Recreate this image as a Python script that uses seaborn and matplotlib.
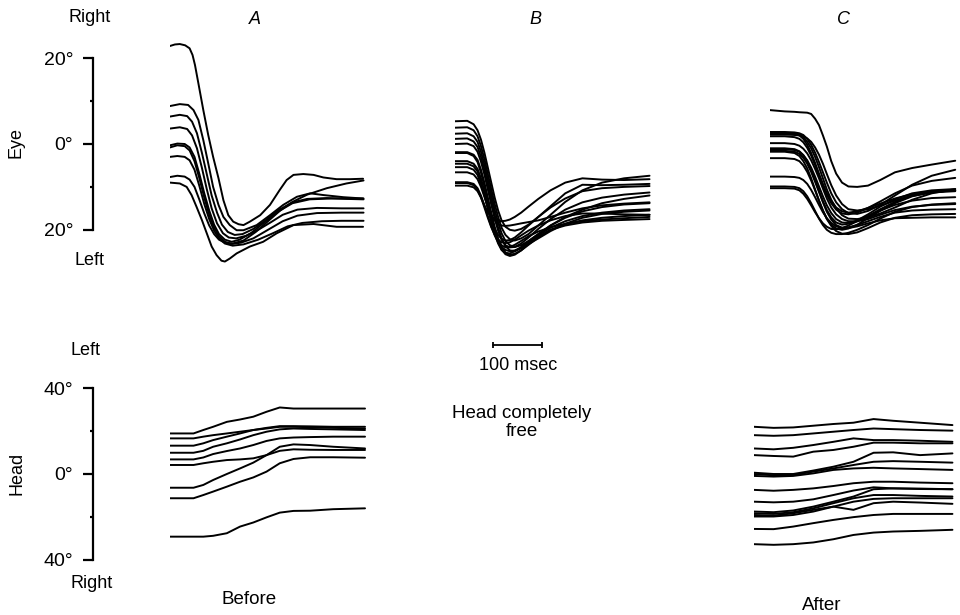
import matplotlib
matplotlib.use("Agg")
import matplotlib.pyplot as plt
import pandas as pd
import seaborn as sns

# ---------------------------------------------------------------------------
# Recorded traces, degrees against time in msec from the start of each sweep.
# Eye: positive = rightward.  Head: positive = leftward.
# ---------------------------------------------------------------------------

# Panel A eye traces: (msec, degrees) samples per trial
EYE_A = [
    [(0, 22.85), (10, 23.2), (20, 23.3), (31, 23.0), (40, 22.3), (46, 20.75), (51, 18.4), (58, 14.1),
     (68, 7.9), (78, 2.1), (88, -3.0), (99, -8.0), (109, -13.1), (119, -16.6), (129, -18.1), (140, -18.7),
     (150, -18.9), (163, -18.1), (184, -16.6), (204, -14.2), (224, -10.7), (238, -8.4), (252, -7.2),
     (272, -7.0), (293, -7.2), (313, -7.8), (340, -8.2), (367, -8.2), (394, -8.1)],
    [(0, 8.85), (20, 9.3), (37, 9.1), (48, 7.9), (58, 5.6), (68, 0.9), (78, -4.5), (88, -10.0), (99, -14.2),
     (109, -17.0), (122, -18.9), (136, -20.1), (150, -20.1), (177, -18.9), (204, -16.6), (231, -14.2),
     (259, -12.3), (286, -11.5), (313, -11.9), (354, -12.4), (394, -12.7)],
    [(0, 6.4), (20, 6.8), (35, 6.5), (45, 5.2), (55, 2.5), (65, -2.0), (75, -7.0), (85, -12.0), (96, -16.0),
     (106, -18.8), (118, -20.5), (132, -21.2), (148, -21.0), (170, -19.8), (195, -17.8), (220, -15.5),
     (250, -13.6), (280, -12.8), (320, -12.6), (360, -12.8), (395, -12.9)],
    [(0, 3.6), (20, 3.9), (35, 3.5), (45, 2.0), (55, -1.0), (65, -5.5), (75, -10.5), (85, -15.0), (96, -18.5),
     (108, -20.8), (120, -21.8), (135, -22.0), (155, -21.4), (180, -20.0), (205, -18.3), (230, -16.5),
     (260, -15.3), (300, -14.9), (350, -15.0), (395, -15.0)],
    [(0, -0.3), (15, 0.1), (30, 0.0), (40, -0.8), (50, -3.0), (60, -7.0), (70, -11.5), (80, -15.5), (90, -18.8),
     (100, -21.0), (112, -22.3), (126, -22.8), (142, -22.3), (165, -20.8), (190, -18.5), (220, -15.8),
     (250, -13.8), (285, -12.9), (330, -12.7), (395, -12.7)],
    [(0, -0.8), (15, -0.3), (30, -0.5), (40, -1.5), (50, -4.0), (60, -8.0), (70, -12.5), (80, -16.5), (90, -19.5),
     (100, -21.5), (112, -22.8), (126, -23.3), (145, -23.0), (170, -22.0), (200, -20.0), (230, -18.0),
     (260, -16.7), (300, -16.1), (350, -16.0), (395, -16.0)],
    [(0, -3.0), (15, -2.8), (30, -3.0), (40, -3.8), (50, -6.0), (60, -9.8), (70, -14.0), (80, -17.5), (90, -20.2),
     (100, -22.0), (112, -23.2), (128, -23.7), (150, -23.4), (180, -22.3), (210, -20.8), (240, -19.2),
     (270, -18.4), (310, -18.0), (350, -17.9), (395, -17.9)],
    [(0, -7.7), (15, -7.4), (30, -7.6), (40, -8.3), (50, -10.0), (60, -13.0), (70, -16.2), (80, -19.0), (90, -21.0),
     (100, -22.3), (112, -23.0), (128, -23.2), (150, -22.5), (175, -20.5), (200, -18.0), (225, -15.5),
     (250, -13.5), (280, -11.8), (320, -10.3), (360, -9.2), (395, -8.5)],
    [(0, -9.0), (20, -9.2), (34, -10.0), (44, -11.9), (54, -14.6), (65, -17.7), (75, -20.8), (85, -23.9),
     (95, -25.9), (105, -27.2), (112, -27.4), (122, -26.7), (136, -25.5), (163, -23.9), (190, -22.8),
     (218, -20.8), (252, -18.9), (293, -18.65), (340, -19.3), (394, -19.3)],
]

# Panel B eye traces on a shared time base
T_EYE_B = [0, 25, 38, 46, 53, 60, 67, 74, 81, 88, 95, 103, 112, 122, 135, 150, 170, 195, 225, 260, 300, 345, 397]
EYE_B = [
    [5.3, 5.4, 4.6, 3.2, 1.0, -2.0, -5.5, -9.0, -12.5, -15.5, -17.8, -19.3, -20.0, -20.2, -19.8, -18.8, -17.0, -14.5, -11.5, -9.5, -9.6, -9.5, -9.3],
    [3.8, 3.9, 3.2, 1.8, -0.5, -3.5, -7.0, -10.5, -14.0, -17.0, -19.5, -21.2, -22.2, -22.5, -22.0, -21.0, -19.0, -16.5, -13.5, -10.8, -9.0, -8.0, -7.4],
    [2.4, 2.5, 1.8, 0.5, -1.8, -4.8, -8.3, -11.8, -15.3, -18.3, -20.8, -22.6, -23.6, -24.0, -23.6, -22.6, -21.0, -19.0, -17.0, -15.3, -13.8, -12.8, -12.0],
    [1.2, 1.3, 0.6, -0.7, -3.0, -6.0, -9.5, -13.0, -16.5, -19.5, -22.0, -23.8, -24.8, -25.0, -24.3, -23.0, -21.3, -19.5, -18.0, -16.8, -16.0, -15.5, -15.2],
    [-1.9, -1.9, -2.5, -3.7, -6.0, -9.0, -12.5, -16.0, -19.3, -22.0, -24.0, -25.3, -25.8, -25.6, -24.8, -23.5, -21.8, -20.0, -18.7, -17.8, -17.2, -16.8, -16.5],
    [-2.1, -2.1, -2.8, -4.2, -6.7, -9.8, -13.3, -16.8, -20.0, -22.7, -24.6, -25.7, -26.1, -25.8, -24.8, -23.3, -21.6, -20.0, -19.0, -18.3, -17.9, -17.7, -17.5],
    [-4.6, -4.6, -5.2, -6.4, -8.7, -11.7, -15.0, -18.2, -21.0, -23.2, -24.7, -25.4, -25.5, -25.0, -24.0, -22.7, -21.0, -19.0, -17.2, -15.7, -14.7, -14.1, -13.8],
    [-5.4, -5.4, -6.0, -7.2, -9.3, -12.0, -15.0, -17.7, -19.8, -21.2, -22.1, -22.5, -22.4, -21.8, -20.6, -19.0, -17.0, -14.8, -12.7, -11.0, -10.3, -10.0, -9.8],
    [-6.6, -6.6, -7.1, -8.2, -10.0, -12.3, -14.6, -16.5, -17.8, -18.6, -19.0, -19.1, -19.0, -18.8, -18.5, -18.2, -17.8, -17.0, -16.0, -15.0, -14.3, -13.9, -13.6],
    [-8.9, -8.9, -9.3, -10.3, -12.0, -14.3, -16.8, -19.2, -21.3, -22.9, -24.0, -24.7, -25.0, -24.8, -24.2, -23.3, -22.0, -20.3, -18.6, -17.2, -16.3, -15.8, -15.5],
    [-9.1, -9.1, -9.6, -10.6, -12.4, -14.8, -17.2, -19.4, -21.1, -22.3, -22.9, -23.1, -22.9, -22.3, -21.3, -20.2, -19.0, -17.8, -16.8, -16.2, -16.2, -16.4, -16.5],
    [-9.7, -9.7, -10.1, -11.0, -12.5, -14.3, -15.9, -17.0, -17.6, -17.9, -18.0, -17.9, -17.6, -17.0, -16.0, -14.6, -12.8, -10.8, -9.0, -8.0, -8.3, -8.4, -8.2],
    [-4.0, -4.0, -4.6, -5.8, -8.0, -11.0, -14.3, -17.5, -20.3, -22.4, -23.6, -24.1, -24.0, -23.5, -22.6, -21.5, -20.4, -19.4, -18.6, -18.0, -17.6, -17.3, -17.0],
    [0.0, 0.1, -0.5, -1.8, -4.1, -7.1, -10.6, -14.1, -17.4, -20.2, -22.3, -23.6, -24.1, -24.0, -23.2, -21.8, -19.8, -17.5, -15.3, -13.6, -12.5, -11.8, -11.3],
]

# Panel C eye traces on a shared time base
T_EYE_C = [0, 30, 50, 60, 68, 76, 84, 92, 100, 108, 116, 125, 135, 147, 160, 178, 200, 225, 255, 290, 330, 378]
EYE_C = [
    [7.9, 7.6, 7.5, 7.4, 7.35, 7.3, 7.0, 5.9, 4.4, 2.0, -0.6, -4.0, -6.9, -9.0, -9.9, -10.0, -9.7, -8.4, -6.6, -5.6, -4.8, -3.9],
    [2.8, 2.8, 2.7, 2.5, 2.1, 1.2, -0.2, -2.0, -4.2, -6.6, -9.0, -11.5, -13.6, -15.2, -16.1, -16.3, -15.6, -14.2, -12.0, -9.5, -7.4, -6.0],
    [2.6, 2.6, 2.5, 2.2, 1.6, 0.5, -1.0, -3.0, -5.4, -8.0, -10.6, -13.0, -15.0, -16.6, -17.4, -17.5, -17.1, -16.2, -14.8, -13.0, -11.5, -10.5],
    [2.2, 2.2, 2.1, 2.0, 1.8, 1.3, 0.5, -0.8, -2.5, -4.6, -7.0, -9.6, -12.0, -14.0, -15.2, -15.5, -15.2, -14.4, -13.2, -12.0, -11.2, -10.8],
    [0.2, 0.2, 0.0, -0.4, -1.1, -2.2, -3.8, -5.8, -8.0, -10.4, -12.7, -14.8, -16.4, -17.5, -18.0, -18.0, -17.5, -16.5, -15.4, -14.6, -14.2, -14.0],
    [-1.2, -1.2, -1.4, -1.8, -2.6, -3.8, -5.5, -7.6, -9.9, -12.2, -14.3, -16.1, -17.5, -18.3, -18.4, -18.0, -16.8, -15.2, -13.5, -12.1, -11.3, -11.0],
    [-1.6, -1.6, -1.8, -2.3, -3.2, -4.6, -6.5, -8.8, -11.2, -13.6, -15.8, -17.6, -18.9, -19.5, -19.4, -18.9, -18.0, -17.0, -16.0, -15.5, -15.3, -15.2],
    [-1.8, -1.8, -2.1, -2.8, -4.0, -5.7, -8.0, -10.6, -13.2, -15.5, -17.4, -18.8, -19.7, -20.0, -19.7, -18.8, -17.3, -15.6, -13.8, -12.2, -11.2, -10.8],
    [-3.3, -3.3, -3.5, -4.0, -5.0, -6.5, -8.5, -10.8, -13.2, -15.5, -17.5, -19.1, -20.3, -20.9, -21.0, -20.6, -19.6, -18.3, -17.2, -16.6, -16.4, -16.3],
    [-7.6, -7.6, -7.7, -7.9, -8.4, -9.3, -10.7, -12.4, -14.2, -15.9, -17.3, -18.4, -19.2, -19.6, -19.6, -19.2, -18.5, -17.8, -17.3, -17.2, -17.1, -17.1],
    [-9.9, -9.9, -10.0, -10.3, -11.0, -12.2, -13.8, -15.6, -17.4, -18.9, -20.0, -20.7, -21.0, -21.0, -20.7, -20.0, -18.9, -17.4, -15.8, -14.7, -14.1, -13.8],
    [-10.3, -10.3, -10.4, -10.8, -11.6, -12.8, -14.3, -15.9, -17.3, -18.5, -19.3, -19.8, -19.9, -19.6, -19.0, -18.0, -16.8, -15.5, -14.2, -13.2, -12.6, -12.4],
    [1.8, 1.8, 1.6, 1.2, 0.4, -0.9, -2.7, -4.9, -7.3, -9.7, -11.9, -13.8, -15.3, -16.2, -16.4, -16.0, -14.9, -13.4, -11.5, -9.7, -8.6, -7.9],
    [-1.0, -1.0, -1.2, -1.7, -2.6, -4.0, -6.0, -8.4, -10.9, -13.3, -15.4, -17.1, -18.3, -18.8, -18.6, -17.8, -16.4, -14.6, -12.9, -11.5, -10.8, -10.5],
    [2.5, 2.5, 2.4, 2.0, 1.2, -0.2, -2.1, -4.4, -6.9, -9.3, -11.5, -13.3, -14.8, -15.7, -16.0, -15.7, -14.9, -13.9, -12.7, -11.7, -11.1, -10.8],
]

# Head traces, before (A) and after (C)
T_HEAD_A = [0, 48, 68, 88, 116, 143, 170, 197, 224, 252, 286, 333, 398]
HEAD_A = [
    [18.9, 18.9, 20.5, 22.0, 24.3, 25.4, 26.7, 29.0, 31.0, 30.5, 30.5, 30.5, 30.5],
    [16.6, 16.6, 17.4, 18.1, 18.9, 19.7, 20.5, 21.2, 22.0, 22.0, 21.8, 21.5, 21.2],
    [13.2, 13.2, 14.3, 15.8, 17.4, 18.9, 20.5, 21.5, 22.3, 22.3, 22.2, 22.0, 22.0],
    [9.9, 9.9, 10.8, 12.7, 14.3, 16.1, 18.1, 19.7, 20.8, 21.2, 21.0, 20.8, 20.5],
    [6.8, 6.8, 7.7, 9.3, 10.7, 11.9, 13.5, 15.4, 16.6, 17.0, 17.2, 17.4, 17.4],
    [4.2, 4.2, 5.0, 5.7, 6.5, 6.8, 7.3, 8.8, 10.8, 11.5, 11.3, 11.2, 11.2],
    [-6.4, -6.4, -5.1, -2.8, 0.0, 2.6, 5.3, 8.8, 12.7, 13.8, 13.5, 12.7, 11.9],
    [-11.3, -11.3, -9.8, -8.2, -5.9, -3.6, -1.6, 1.1, 5.0, 7.0, 7.8, 7.8, 7.6],
    [-29.2, -29.2, -29.2, -28.8, -27.6, -24.5, -22.6, -20.2, -18.0, -17.2, -17.1, -16.4, -16.0],
]

T_HEAD_C = [0, 40, 80, 121, 162, 203, 244, 284, 339, 405]
HEAD_C = [
    [22.0, 21.5, 21.7, 22.5, 23.3, 23.9, 25.6, 24.8, 23.9, 22.8],
    [18.1, 17.8, 18.1, 18.9, 19.7, 20.5, 21.2, 20.9, 20.5, 20.2],
    [11.9, 11.5, 12.2, 13.5, 15.0, 16.6, 15.8, 15.8, 15.5, 15.0],
    [8.8, 8.4, 8.1, 10.4, 11.2, 12.7, 14.6, 14.6, 14.3, 14.3],
    [0.6, 0.0, 0.0, 1.6, 3.4, 5.7, 9.9, 10.1, 8.8, 9.6],
    [0.0, -0.6, -0.5, 1.1, 2.6, 4.2, 5.7, 6.0, 5.7, 5.3],
    [-0.9, -1.2, -0.9, 0.3, 1.9, 2.6, 2.9, 2.6, 2.3, 1.9],
    [-7.4, -7.8, -7.4, -6.7, -5.6, -4.3, -3.6, -3.6, -4.0, -4.3],
    [-12.9, -13.2, -12.9, -11.8, -9.8, -7.7, -6.2, -6.7, -7.0, -7.1],
    [-17.5, -17.8, -17.0, -15.2, -12.9, -10.5, -7.1, -6.7, -6.8, -7.1],
    [-18.3, -18.6, -17.8, -16.0, -13.6, -11.3, -9.8, -9.8, -10.2, -10.5],
    [-19.8, -19.8, -19.1, -17.5, -15.2, -12.9, -11.6, -11.3, -11.3, -11.3],
    [-19.1, -19.4, -18.3, -16.7, -15.2, -16.7, -13.6, -12.9, -13.3, -13.9],
    [-25.6, -25.7, -24.5, -22.9, -21.4, -20.1, -19.1, -18.6, -18.6, -18.6],
    [-32.7, -33.0, -32.7, -31.9, -30.4, -28.4, -27.3, -26.8, -26.5, -26.0],
]

EYE_TICKS = [-20, 0, 20]
EYE_TICK_LABELS = ["20°", "0°", "20°"]
HEAD_TICKS = [-40, 0, 40]
HEAD_TICK_LABELS = ["40°", "0°", "40°"]
SCALE_BAR_MS = 100

# ---------------------------------------------------------------------------
sns.set_theme(style="white")
plt.rcParams["font.family"] = ["Liberation Sans", "DejaVu Sans"]

W, H = 960, 615
fig = plt.figure(figsize=(W / 100, H / 100), dpi=100)
fig.patch.set_facecolor("white")

PX_PER_MS = 0.49
EYE_PX_PER_DEG, EYE_ZERO_PX = 4.29, 144.0
HEAD_PX_PER_DEG, HEAD_ZERO_PX = 2.146, 474.0
PANEL_W = 200
TRACE_LW = 1.4


def px_axes(left, top, width, height):
    ax = fig.add_axes([left / W, 1 - (top + height) / H, width / W, height / H])
    ax.set_facecolor("none")
    for s in ax.spines.values():
        s.set_visible(False)
    ax.set_xticks([])
    ax.set_yticks([])
    ax.set_xlim(0, width / PX_PER_MS)
    return ax


def eye_axes(left):
    top, height = 30, 250
    ax = px_axes(left, top, PANEL_W, height)
    ax.set_ylim((EYE_ZERO_PX - (top + height)) / EYE_PX_PER_DEG,
                (EYE_ZERO_PX - top) / EYE_PX_PER_DEG)
    return ax


def head_axes(left):
    top, height = 370, 210
    ax = px_axes(left, top, PANEL_W, height)
    ax.set_ylim((HEAD_ZERO_PX - (top + height)) / HEAD_PX_PER_DEG,
                (HEAD_ZERO_PX - top) / HEAD_PX_PER_DEG)
    return ax


def traces_frame(traces, times=None):
    rows = []
    for k, tr in enumerate(traces):
        pairs = tr if times is None else zip(times, tr)
        for t, v in pairs:
            rows.append({"t": t, "deg": v, "trial": k})
    return pd.DataFrame(rows)


def draw_traces(ax, df):
    sns.lineplot(data=df, x="t", y="deg", units="trial", estimator=None,
                 color="black", lw=TRACE_LW, ax=ax, legend=False, sort=False)
    ax.set_xlabel("")
    ax.set_ylabel("")


def scale_spine(ax, ticks, labels, minor):
    sp = ax.spines["left"]
    sp.set_visible(True)
    sp.set_position(("outward", 77 * 0.72))
    sp.set_bounds(ticks[0], ticks[-1])
    sp.set_linewidth(1.6)
    sp.set_color("black")
    ax.set_yticks(ticks)
    ax.set_yticklabels(labels)
    ax.set_yticks(minor, minor=True)
    ax.tick_params(axis="y", which="major", left=True, labelleft=True,
                   length=7.2, width=1.6, color="black", pad=7,
                   labelsize=14, labelcolor="black")
    ax.tick_params(axis="y", which="minor", left=True, length=2.4,
                   width=1.6, color="black")


ax_ea = eye_axes(170)
ax_eb = eye_axes(455)
ax_ec = eye_axes(770)
ax_ha = head_axes(170)
ax_hc = head_axes(754)

draw_traces(ax_ea, traces_frame(EYE_A))
draw_traces(ax_eb, traces_frame(EYE_B, T_EYE_B))
draw_traces(ax_ec, traces_frame(EYE_C, T_EYE_C))
draw_traces(ax_ha, traces_frame(HEAD_A, T_HEAD_A))
draw_traces(ax_hc, traces_frame(HEAD_C, T_HEAD_C))

scale_spine(ax_ea, EYE_TICKS, EYE_TICK_LABELS, [-10, 10])
scale_spine(ax_ha, HEAD_TICKS, HEAD_TICK_LABELS, [-20, 20])

# time calibration bar under panel B
ax_bar = px_axes(455, 330, PANEL_W, 30)
ax_bar.set_ylim(0, 1)
bar_t0 = 77
ax_bar.plot([bar_t0, bar_t0 + SCALE_BAR_MS], [0.5, 0.5], color="black", lw=1.3,
            marker="|", markersize=5, markeredgewidth=1.3)


def ftext(x, y, s, **kw):
    kw.setdefault("ha", "center")
    kw.setdefault("va", "center")
    kw.setdefault("color", "black")
    fig.text(x / W, 1 - y / H, s, **kw)


ftext(90, 17, "Right", fontsize=13)
ftext(90, 261, "Left", fontsize=13)
ftext(16, 143, "Eye", fontsize=13, rotation=90)
ftext(85, 351, "Left", fontsize=13)
ftext(92, 583, "Right", fontsize=13)
ftext(17, 473, "Head", fontsize=13, rotation=90)

ftext(255, 20, "A", fontsize=13, style="italic")
ftext(535, 20, "B", fontsize=13, style="italic")
ftext(843, 20, "C", fontsize=13, style="italic")

ftext(518, 365, "100 msec", fontsize=13)
ftext(522, 414, "Head completely", fontsize=13.5)
ftext(522, 432, "free", fontsize=13.5)

ftext(249, 599, "Before", fontsize=13.5)
ftext(822, 605, "After", fontsize=13.5)

fig.savefig("out.png", dpi=100, facecolor="white")
